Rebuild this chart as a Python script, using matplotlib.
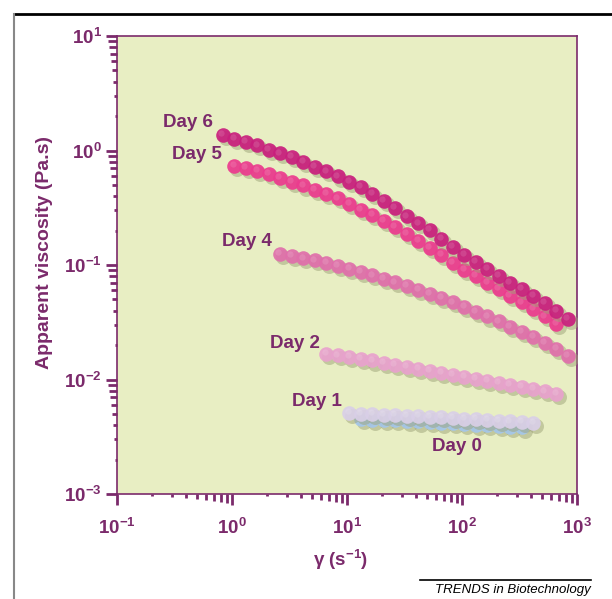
import numpy as np
import matplotlib
matplotlib.use('Agg')
import matplotlib.pyplot as plt
from matplotlib.lines import Line2D
import matplotlib.transforms as mtransforms
from matplotlib.ticker import FuncFormatter, NullLocator

plt.rcParams['font.family'] = ['Liberation Sans', 'DejaVu Sans']
plt.rcParams['mathtext.fontset'] = 'custom'
plt.rcParams['mathtext.rm'] = 'Liberation Sans:bold'
plt.rcParams['mathtext.bf'] = 'Liberation Sans:bold'
plt.rcParams['mathtext.it'] = 'Liberation Sans:bold:italic'
plt.rcParams['mathtext.default'] = 'bf'

# ---------------- data ----------------
gamma_day6 = [0.832, 1.05, 1.32, 1.66, 2.09, 2.63, 3.31, 4.17, 5.25, 6.61, 8.32,
              10.5, 13.2, 16.6, 20.9, 26.3, 33.1, 41.7, 52.5, 66.1, 83.2,
              105, 132, 166, 209, 263, 331, 417, 525, 661, 832]
eta_day6 = [1.37, 1.27, 1.19, 1.11, 1.02, 0.944, 0.873, 0.796, 0.724, 0.658, 0.593,
            0.533, 0.480, 0.418, 0.361, 0.313, 0.266, 0.231, 0.201, 0.170, 0.144,
            0.122, 0.106, 0.0920, 0.0802, 0.0700, 0.0614, 0.0538, 0.0463, 0.0397, 0.0340]

gamma_day5 = [1.05, 1.32, 1.66, 2.09, 2.63, 3.31, 4.17, 5.25, 6.61, 8.32,
              10.5, 13.2, 16.6, 20.9, 26.3, 33.1, 41.7, 52.5, 66.1, 83.2,
              105, 132, 166, 209, 263, 331, 417, 525, 661]
eta_day5 = [0.738, 0.700, 0.664, 0.628, 0.581, 0.536, 0.495, 0.454, 0.417, 0.382,
            0.341, 0.305, 0.272, 0.242, 0.214, 0.186, 0.162, 0.141, 0.122, 0.105,
            0.0912, 0.0798, 0.0700, 0.0614, 0.0537, 0.0471, 0.0413, 0.0356, 0.0306]

gamma_day4 = [2.63, 3.31, 4.17, 5.25, 6.61, 8.32,
              10.5, 13.2, 16.6, 20.9, 26.3, 33.1, 41.7, 52.5, 66.1, 83.2,
              105, 132, 166, 209, 263, 331, 417, 525, 661, 832]
eta_day4 = [0.1245, 0.1194, 0.1143, 0.1096, 0.1050, 0.0986,
            0.0925, 0.0867, 0.0811, 0.0757, 0.0706, 0.0659, 0.0608, 0.0558, 0.0513, 0.0471,
            0.0430, 0.0390, 0.0355, 0.0322, 0.0290, 0.0261, 0.0234, 0.0210, 0.0186, 0.0162]

gamma_day2 = [6.61, 8.32, 10.5, 13.2, 16.6, 20.9, 26.3, 33.1, 41.7, 52.5, 66.1,
              83.2, 105, 132, 166, 209, 263, 331, 417, 525, 661]
eta_day2 = [0.01679, 0.01626, 0.01570, 0.01521, 0.01466, 0.01403, 0.01343, 0.01288,
            0.01233, 0.01183, 0.01138, 0.01094, 0.01054, 0.01014, 0.00975, 0.00938,
            0.00897, 0.00859, 0.00822, 0.00787, 0.00752]

gamma_day1 = [10.5, 13.2, 16.6, 20.9, 26.3, 33.1, 41.7, 52.5, 66.1, 83.2,
              105, 132, 166, 209, 263, 331, 417]
eta_day1 = [0.00508, 0.00504, 0.00499, 0.00493, 0.00489, 0.00484, 0.00479, 0.00474,
            0.00469, 0.00462, 0.00456, 0.00450, 0.00444, 0.00438, 0.00431, 0.00425, 0.00419]

gamma_day0 = [13.2, 16.6, 20.9, 26.3, 33.1, 41.7, 52.5, 66.1, 83.2,
              105, 132, 166, 209, 263, 331]
eta_day0 = [0.00452, 0.00447, 0.00443, 0.00439, 0.00435, 0.00430, 0.00426, 0.00421,
            0.00415, 0.00409, 0.00404, 0.00398, 0.00393, 0.00386, 0.00381]

series_names = ['Day 0', 'Day 1', 'Day 2', 'Day 4', 'Day 5', 'Day 6']
label_pos = {  # (gamma, eta, alignment) anchor of each label
    'Day 6': (0.414, 1.77, 'center'),
    'Day 5': (0.30, 0.914, 'left'),
    'Day 4': (1.35, 0.159, 'center'),
    'Day 2': (3.5, 0.0205, 'center'),
    'Day 1': (5.5, 0.00645, 'center'),
    'Day 0': (91.0, 0.00262, 'center'),
}

xticks = [0.1, 1, 10, 100, 1000]
yticks = [0.001, 0.01, 0.1, 1, 10]
minor_subs = [2, 3, 4, 5, 6, 7, 8, 9]

# ---------------- style ----------------
PURPLE = '#7b2a6b'
BG = '#e8eec3'
colors = {
    'Day 0': '#a4c6ea',
    'Day 1': '#d9cfe7',
    'Day 2': '#e8a2cd',
    'Day 4': '#e06fab',
    'Day 5': '#ec3b8e',
    'Day 6': '#c91f7d',
}
data = {
    'Day 0': (gamma_day0, eta_day0),
    'Day 1': (gamma_day1, eta_day1),
    'Day 2': (gamma_day2, eta_day2),
    'Day 4': (gamma_day4, eta_day4),
    'Day 5': (gamma_day5, eta_day5),
    'Day 6': (gamma_day6, eta_day6),
}

fig = plt.figure(figsize=(6.12, 5.99), dpi=100)
ax = fig.add_axes([117/612, 1-494/599, 460/612, 458/599])
ax.set_facecolor(BG)
ax.set_xscale('log')
ax.set_yscale('log')
ax.set_xlim(0.1, 1000)
ax.set_ylim(0.001, 10)

shadow_tr = ax.transData + mtransforms.ScaledTranslation(2.0/72, -2.2/72, fig.dpi_scale_trans)
hl_tr = ax.transData + mtransforms.ScaledTranslation(-1.3/72, 1.3/72, fig.dpi_scale_trans)

z = 2
for name in series_names:
    g, e = data[name]
    ax.plot(g, e, 'o', ms=10.8, mew=0, color='#9ea478', alpha=0.5,
            transform=shadow_tr, zorder=z)
    ax.plot(g, e, 'o', ms=10.5, mew=0, color=colors[name],
            alpha=0.93, zorder=z + 0.1)
    ax.plot(g, e, 'o', ms=4.5, mew=0, color='white', alpha=0.12,
            transform=hl_tr, zorder=z + 0.2)
    z += 1

for name, (gx, ey, ha) in label_pos.items():
    ax.text(gx, ey, name, ha=ha, va='center', fontsize=13.5, fontweight='bold',
            color=PURPLE, zorder=20)

for sp in ax.spines.values():
    sp.set_color(PURPLE)
    sp.set_linewidth(1.2)

# major ticks through the axis machinery
ax.set_xticks(xticks)
ax.set_yticks(yticks)
ax.xaxis.set_minor_locator(NullLocator())
ax.yaxis.set_minor_locator(NullLocator())
fmt = FuncFormatter(lambda v, p: r'$\mathbf{10^{%d}}$' % int(round(np.log10(v))))
ax.xaxis.set_major_formatter(fmt)
ax.yaxis.set_major_formatter(fmt)
ax.tick_params(which='major', direction='out', length=8, width=2, color=PURPLE,
               labelcolor=PURPLE, labelsize=13.5)
ax.tick_params(axis='x', which='major', pad=9)
ax.tick_params(axis='y', which='major', pad=3)

# graded minor ticks (length grows with the sub-decade value, as in the original)
xb = mtransforms.blended_transform_factory(ax.transData, ax.transAxes)
yb = mtransforms.blended_transform_factory(ax.transAxes, ax.transData)
xdec = [0.1, 1, 10, 100]
ydec = [0.001, 0.01, 0.1, 1]
for s in minor_subs:
    L = 0.72 * s
    xs = [d * s for d in xdec]
    ys = [d * s for d in ydec]
    ax.plot(xs, [0] * len(xs), ls='none', marker=3, ms=L, mew=2, color=PURPLE,
            transform=xb, clip_on=False, zorder=5)
    ax.plot([0] * len(ys), ys, ls='none', marker=0, ms=L, mew=2, color=PURPLE,
            transform=yb, clip_on=False, zorder=5)

ax.set_xlabel('γ (s$^{-1}$)', fontsize=13.5, fontweight='bold', color=PURPLE)
ax.xaxis.set_label_coords(0.487, -0.118)
ax.set_ylabel('Apparent viscosity (Pa.s)', fontsize=14, fontweight='bold', color=PURPLE)
ax.yaxis.set_label_coords(-0.157, 0.528)
ax.yaxis.label.set_va('center')

# outer frame and source line
fig.add_artist(Line2D([14/612, 1.0], [1-14/599, 1-14/599], color='black', lw=2,
                      transform=fig.transFigure))
fig.add_artist(Line2D([14/612, 14/612], [0, 1-14/599], color='#888888', lw=1.5,
                      transform=fig.transFigure))
fig.add_artist(Line2D([420/612, 591/612], [1-580/599, 1-580/599], color='black', lw=1.2,
                      transform=fig.transFigure))
fig.text(591/612, 1-590/599, 'TRENDS in Biotechnology', ha='right', va='center',
         fontsize=9.5, style='italic', color='black')

fig.savefig('out.png', dpi=100)
